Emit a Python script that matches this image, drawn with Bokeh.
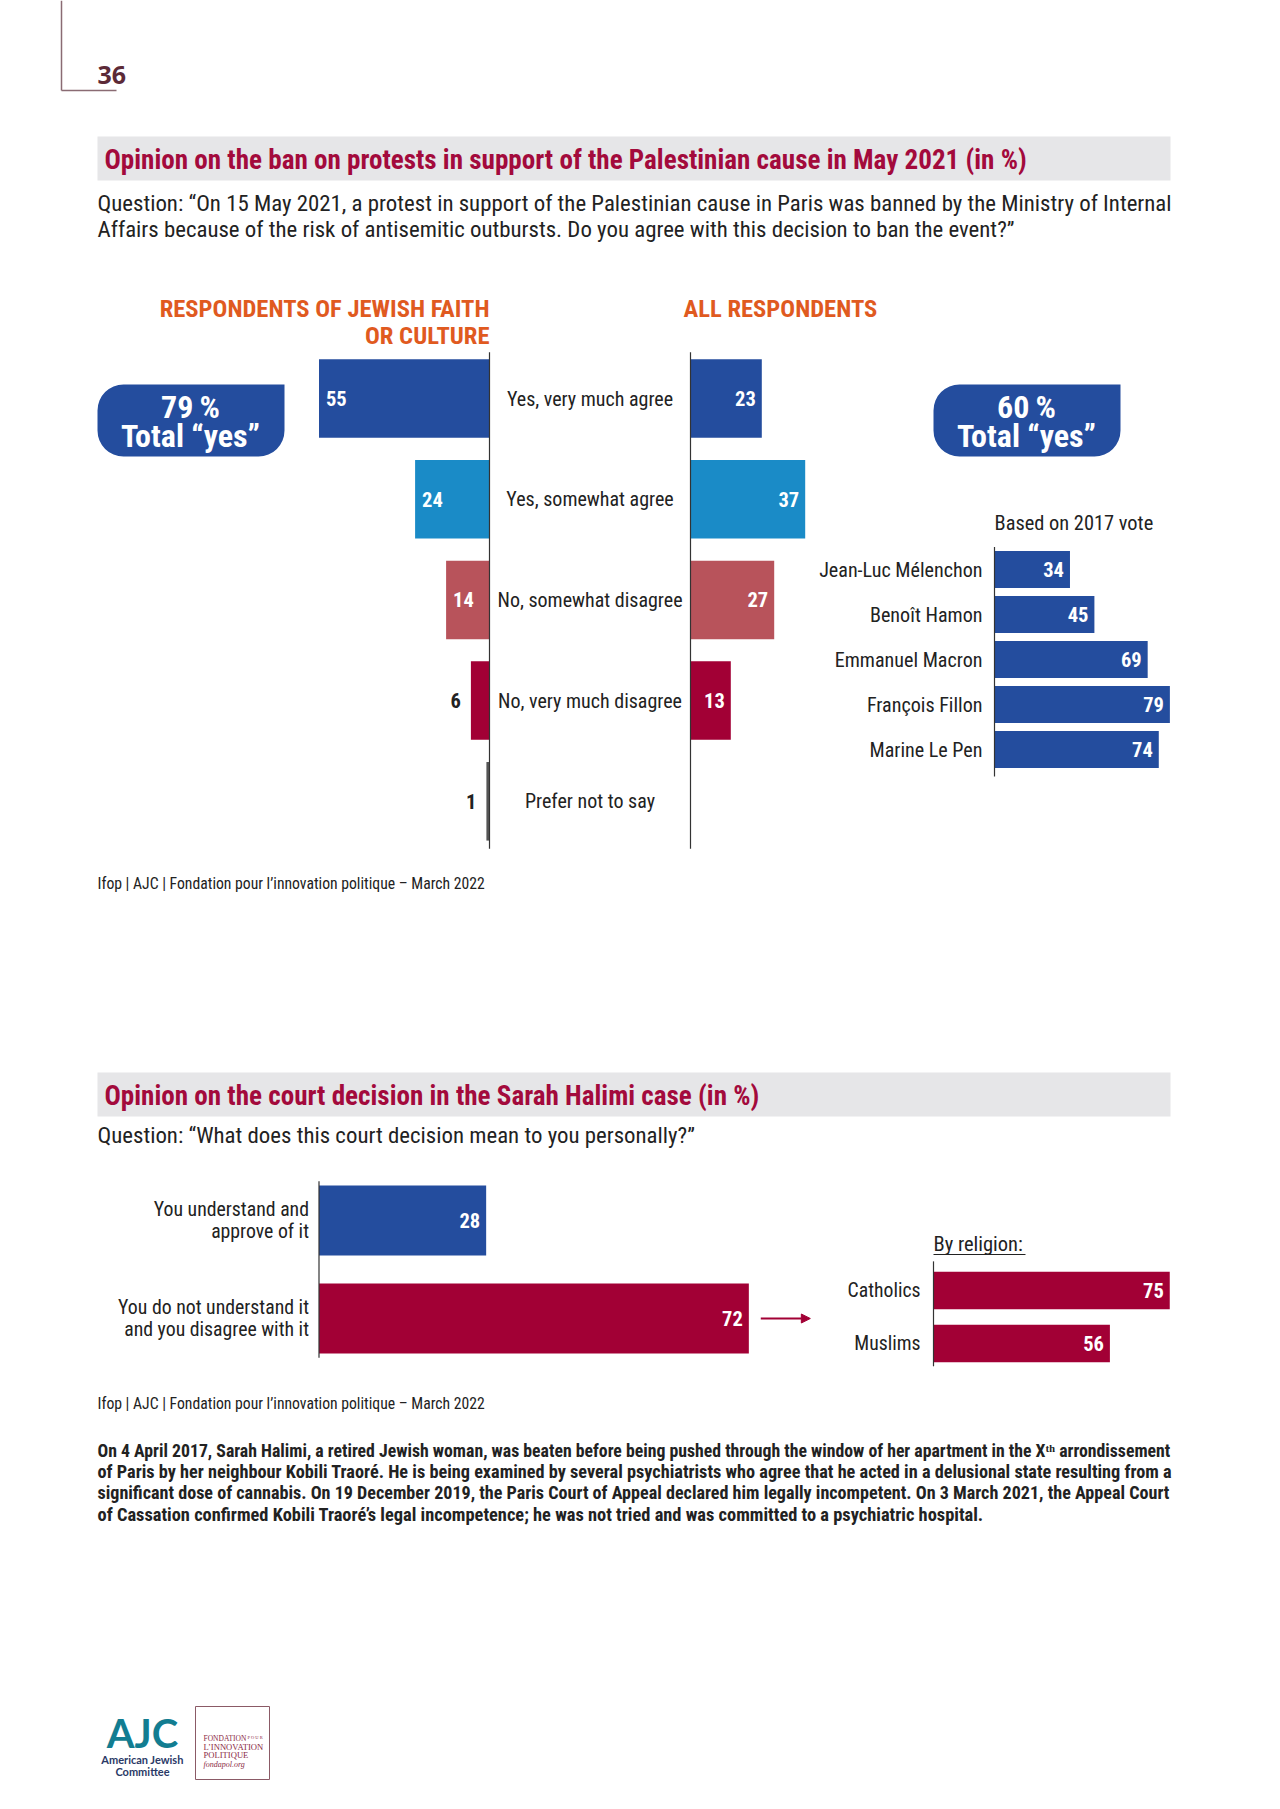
from bokeh.plotting import figure
from bokeh.models import Range1d, Arrow, NormalHead
from bokeh.core.properties import value
from bokeh.embed import file_html
from bokeh.resources import INLINE

# ---------------- data ----------------
page_number = "36"
title_1 = "Opinion on the ban on protests in support of the Palestinian cause in May 2021 (in %)"
question_1 = ["Question: \u201cOn 15 May 2021, a protest in support of the Palestinian cause in Paris was banned by the Ministry of Internal",
              "Affairs because of the risk of antisemitic outbursts. Do you agree with this decision to ban the event?\u201d"]
group_jewish = ["RESPONDENTS OF JEWISH FAITH", "OR CULTURE"]
group_all = "ALL RESPONDENTS"
ban_categories = ["Yes, very much agree", "Yes, somewhat agree", "No, somewhat disagree",
                  "No, very much disagree", "Prefer not to say"]
ban_jewish = [55, 24, 14, 6, 1]
ban_all = [23, 37, 27, 13]
total_yes_jewish = 79
total_yes_all = 60
vote_title = "Based on 2017 vote"
vote_candidates = ["Jean-Luc M\u00e9lenchon", "Beno\u00eet Hamon", "Emmanuel Macron",
                   "Fran\u00e7ois Fillon", "Marine Le Pen"]
vote_yes = [34, 45, 69, 79, 74]
source = "Ifop | AJC | Fondation pour l\u2019innovation politique \u2013 March 2022"

title_2 = "Opinion on the court decision in the Sarah Halimi case (in %)"
question_2 = "Question: \u201cWhat does this court decision mean to you personally?\u201d"
court_categories = [["You understand and", "approve of it"],
                    ["You do not understand it", "and you disagree with it"]]
court_values = [28, 72]
religion_title = "By religion:"
religion_categories = ["Catholics", "Muslims"]
religion_disagree = [75, 56]
paragraph = [
    "On 4 April 2017, Sarah Halimi, a retired Jewish woman, was beaten before being pushed through the window of her apartment in the X\u1d57\u02b0 arrondissement",
    "of Paris by her neighbour Kobili Traor\u00e9. He is being examined by several psychiatrists who agree that he acted in a delusional state resulting from a",
    "significant dose of cannabis. On 19 December 2019, the Paris Court of Appeal declared him legally incompetent. On 3 March 2021, the Appeal Court",
    "of Cassation confirmed Kobili Traor\u00e9\u2019s legal incompetence; he was not tried and was committed to a psychiatric hospital.",
]

# ---------------- style ----------------
FONT = value("Roboto Condensed")
BLUE = "#244d9e"
LIGHT_BLUE = "#1a8bc7"
ROSE = "#b8535b"
CRIMSON = "#a20035"
GREY_BAR = "#555555"
ORANGE = "#e05a1f"
TITLE_RED = "#a30a3c"
TEXT = "#222222"
ban_colors = [BLUE, LIGHT_BLUE, ROSE, CRIMSON, GREY_BAR]

W, H = 1272, 1801
X0, X1, Y0, Y1 = 0, W, 0, H


def lin_x(p_a, v_a, px_per_unit):
    # page x = p_a + (v - v_a) * px_per_unit
    return Range1d(start=v_a + (X0 - p_a) / px_per_unit, end=v_a + (X1 - p_a) / px_per_unit)


def lin_y(p_a, px_per_unit):
    # page y = p_a + i * px_per_unit ; y grows downward on the page
    return Range1d(start=(Y1 - p_a) / px_per_unit, end=(Y0 - p_a) / px_per_unit)


p = figure(width=W, height=H, x_range=Range1d(X0, X1), y_range=Range1d(Y1, Y0),
           output_backend="svg", toolbar_location=None, min_border=0,
           x_axis_location=None, y_axis_location=None)
p.grid.visible = False
p.outline_line_color = None

p.extra_x_ranges = {
    "jew": lin_x(489, 0, -3.1),
    "all": lin_x(690, 0, 3.1),
    "vote": lin_x(994, 0, 2.22),
    "court": lin_x(318.5, 0, 5.97),
    "rel": lin_x(933, 0, 3.15),
}
p.extra_y_ranges = {
    "ban": lin_y(398, 100.7),
    "vote": lin_y(569, 45),
    "court": lin_y(1220, 98),
    "rel": lin_y(1290, 53),
}


def txt(x, y, t, size, color=TEXT, bold=False, align="left", font=FONT, style=None, **kw):
    p.text(x=x if isinstance(x, list) else [x], y=y if isinstance(y, list) else [y],
           text=t if isinstance(t, list) else [t], text_font=font, text_font_size=f"{size}px",
           text_font_style=style or ("bold" if bold else "normal"), text_color=color,
           text_align=align, text_baseline="middle", **kw)


# ---------------- page header ----------------
p.segment(x0=[61, 61], y0=[Y0, 90], x1=[61, 116], y1=[90, 90], line_color="#8a6b73", line_width=1.5)
txt(97, 74, page_number, 25, color="#5c2a37", bold=True, font=value("Open Sans"))

# ---------------- section 1 ----------------
p.quad(left=[97], right=[1170], top=[136], bottom=[180], fill_color="#e6e6e8", line_color=None)
txt(104, 159, title_1, 27.1, color=TITLE_RED, bold=True)
txt([97, 97], [203, 229], question_1, 22.85)

txt([489, 489], [308, 335], group_jewish, 24.6, color=ORANGE, bold=True, align="right")
txt(683, 308, group_all, 24.6, color=ORANGE, bold=True)

n_ban = len(ban_categories)
idx_ban = list(range(n_ban))
idx_all = list(range(len(ban_all)))

# Jewish respondents bars (growing leftwards)
p.hbar(y=idx_ban, left=0, right=ban_jewish, height=0.78, fill_color=ban_colors, line_color=None,
       x_range_name="jew", y_range_name="ban")
inside = [i for i in idx_ban if ban_jewish[i] >= 10]
outside = [i for i in idx_ban if ban_jewish[i] < 10]
txt([ban_jewish[i] for i in inside], inside, [str(ban_jewish[i]) for i in inside], 20.5,
    color="white", bold=True, align="left", x_offset=7, x_range_name="jew", y_range_name="ban")
txt([ban_jewish[i] for i in outside], outside, [str(ban_jewish[i]) for i in outside], 20.5,
    color=TEXT, bold=True, align="right", x_offset=-10, x_range_name="jew", y_range_name="ban")

# All respondents bars
p.hbar(y=idx_all, left=0, right=ban_all, height=0.78, fill_color=ban_colors[:len(ban_all)],
       line_color=None, x_range_name="all", y_range_name="ban")
txt(ban_all, idx_all, [str(v) for v in ban_all], 20.5, color="white", bold=True, align="right",
    x_offset=-6, x_range_name="all", y_range_name="ban")

# axes of the two bar groups
p.segment(x0=[0], x1=[0], y0=[-0.46], y1=[4.47], line_color="#333333", line_width=1.2,
          x_range_name="jew", y_range_name="ban")
p.segment(x0=[0], x1=[0], y0=[-0.46], y1=[4.47], line_color="#333333", line_width=1.2,
          x_range_name="all", y_range_name="ban")

# category labels in between
txt([589.5] * n_ban, idx_ban, ban_categories, 20, align="center", y_range_name="ban")

# total yes boxes
p.quad(left=[97, 933], right=[284, 1120], top=[384, 384], bottom=[456, 456],
       fill_color=BLUE, line_color=None, border_radius=(26, 0, 26, 26))
txt([190, 1026], [406, 406], [f"{total_yes_jewish}\u2009%", f"{total_yes_all}\u2009%"], 32,
    color="white", bold=True, align="center")
txt([190, 1026], [435, 435], ["Total \u201cyes\u201d", "Total \u201cyes\u201d"], 32,
    color="white", bold=True, align="center")

# vote breakdown
txt(994, 522, vote_title, 20.4)
idx_vote = list(range(len(vote_candidates)))
p.hbar(y=idx_vote, left=0, right=vote_yes, height=0.82, fill_color=BLUE, line_color=None,
       x_range_name="vote", y_range_name="vote")
txt(vote_yes, idx_vote, [str(v) for v in vote_yes], 20.5, color="white", bold=True, align="right",
    x_offset=-6, x_range_name="vote", y_range_name="vote")
txt([0] * len(vote_candidates), idx_vote, vote_candidates, 20.1, align="right", x_offset=-12,
    x_range_name="vote", y_range_name="vote")
p.segment(x0=[0], x1=[0], y0=[-0.5], y1=[4.6], line_color="#333333", line_width=1.2,
          x_range_name="vote", y_range_name="vote")

txt(97, 883, source, 15.7)

# ---------------- section 2 ----------------
p.quad(left=[97], right=[1170], top=[1072], bottom=[1116], fill_color="#e6e6e8", line_color=None)
txt(104, 1095, title_2, 27.1, color=TITLE_RED, bold=True)
txt(97, 1135, question_2, 22.85)

idx_court = list(range(len(court_values)))
p.hbar(y=idx_court, left=0, right=court_values, height=0.714, fill_color=[BLUE, CRIMSON],
       line_color=None, x_range_name="court", y_range_name="court")
txt(court_values, idx_court, [str(v) for v in court_values], 20.5, color="white", bold=True,
    align="right", x_offset=-6, x_range_name="court", y_range_name="court")
for i, lines in enumerate(court_categories):
    txt([0, 0], [i, i], lines, 19.8, align="right", x_offset=-10,
        y_offset=[-11, 11], x_range_name="court", y_range_name="court")
p.segment(x0=[0], x1=[0], y0=[-0.4], y1=[1.4], line_color="#333333", line_width=1.2,
          x_range_name="court", y_range_name="court")
p.add_layout(Arrow(end=NormalHead(size=9, fill_color=CRIMSON, line_color=CRIMSON),
                   x_start=court_values[1] + 2, x_end=court_values[1] + 10.3, y_start=1, y_end=1,
                   line_color=CRIMSON, line_width=2, x_range_name="court", y_range_name="court"))

txt(933, 1243, religion_title, 20.5)
p.segment(x0=[933], x1=[1025], y0=[1254], y1=[1254], line_color=TEXT, line_width=1)
idx_rel = list(range(len(religion_categories)))
p.hbar(y=idx_rel, left=0, right=religion_disagree, height=0.71, fill_color=CRIMSON,
       line_color=None, x_range_name="rel", y_range_name="rel")
txt(religion_disagree, idx_rel, [str(v) for v in religion_disagree], 20.5, color="white", bold=True,
    align="right", x_offset=-6, x_range_name="rel", y_range_name="rel")
txt([0, 0], idx_rel, religion_categories, 19.7, align="right", x_offset=-13,
    x_range_name="rel", y_range_name="rel")
p.segment(x0=[0], x1=[0], y0=[-0.55], y1=[1.43], line_color="#333333", line_width=1.2,
          x_range_name="rel", y_range_name="rel")

txt(97, 1403, source, 15.7)

# justified paragraph: each line sized to fill the text column
for line, yy, size in zip(paragraph, [1450, 1471, 1492, 1514], [17.75, 18.25, 18.1, 18.4]):
    txt(97, yy, line, size, bold=True)

# ---------------- footer logos ----------------
txt(142, 1732, "AJC", 40, color="#127d91", bold=True, align="center", font=value("Lato"))
txt([142, 142], [1759, 1771], ["American Jewish", "Committee"], 11, color="#2b3a67", bold=True,
    align="center", font=value("Lato"))
p.quad(left=[195], right=[269], top=[1706], bottom=[1779], fill_color="white",
       line_color="#8b5a66", line_width=1)
txt(203, 1738, "FONDATION", 7.5, color="#8b2a45", font=value("Liberation Serif"))
txt(247, 1737, "P O U R", 4.5, color="#8b2a45", font=value("Liberation Serif"))
txt([203, 203], [1746, 1754], ["L\u2019INNOVATION", "POLITIQUE"], 8.6,
    color="#8b2a45", font=value("Liberation Serif"))
txt(203, 1764, "fondapol.org", 8, color="#8b2a45", font=value("Liberation Serif"), style="italic")

open("out.html", "w").write(file_html(p, INLINE))
